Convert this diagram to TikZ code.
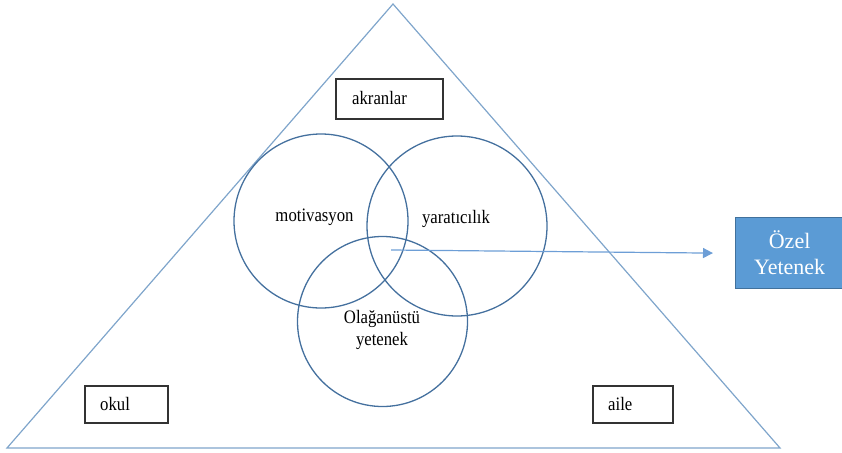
\documentclass[tikz,border=0pt]{standalone}
\usepackage{fontspec}
\setmainfont{Liberation Serif}[FakeStretch=0.88]
\newfontfamily\boxfont{Liberation Serif}
\usetikzlibrary{arrows.meta}
\definecolor{triblue}{HTML}{7FA5CB}
\definecolor{circblue}{HTML}{44709E}
\definecolor{arrblue}{HTML}{6D9ED6}
\definecolor{boxfill}{HTML}{5B9BD5}
\definecolor{boxedge}{HTML}{41719C}
\begin{document}
\begin{tikzpicture}[x=1pt,y=-1pt,
  lbl/.style={font=\fontsize{19}{22}\selectfont, inner sep=0pt, align=center},
  framebox/.style={draw=black!80, line width=1.3pt},
  ring/.style={draw=circblue, line width=1.3pt, circle, inner sep=0pt}]
\useasboundingbox (0,0) rectangle (842,452);
% triangle
\coordinate (A) at (393,4);
\coordinate (L) at (7,448);
\coordinate (R) at (780,448);
\draw[triblue, line width=1.2pt, line join=miter] (A) -- (L) -- (R) -- cycle;
% circles
\node[ring, minimum size=174pt] (cm) at (321,221) {};
\node[ring, minimum size=180pt] (cy) at (457,226) {};
\node[ring, minimum size=170pt] (co) at (382.5,321.5) {};
% labels in circles
\node[lbl] (tm) at (314.5,217) {motivasyon};
\node[lbl] (ty) at (456,219) {yaratıcılık};
\node[lbl] (to) at (382,330) {Olağanüstü\\yetenek};
% boxes
\draw[framebox] (336,79) rectangle (443,119);
\node[lbl, anchor=west] (tak) at (352,98) {akranlar};
\draw[framebox] (85,386) rectangle (168,423);
\node[lbl, anchor=west] (tok) at (100,404) {okul};
\draw[framebox] (593,386) rectangle (673,423);
\node[lbl, anchor=west] (tai) at (608,404) {aile};
% Ozel Yetenek
\node[draw=boxedge, fill=boxfill, line width=1.2pt, minimum width=108pt, minimum height=71pt, anchor=north west, text=white, align=center, font=\boxfont\fontsize{22}{26}\selectfont, inner sep=0pt] (oz) at (735,217) {Özel\\Yetenek};
\coordinate (st) at (391,250);
\draw[arrblue, line width=1.2pt, -{Triangle[length=10pt,width=10pt]}] (st) -- ([xshift=-22pt]oz.west);
\end{tikzpicture}
\end{document}
